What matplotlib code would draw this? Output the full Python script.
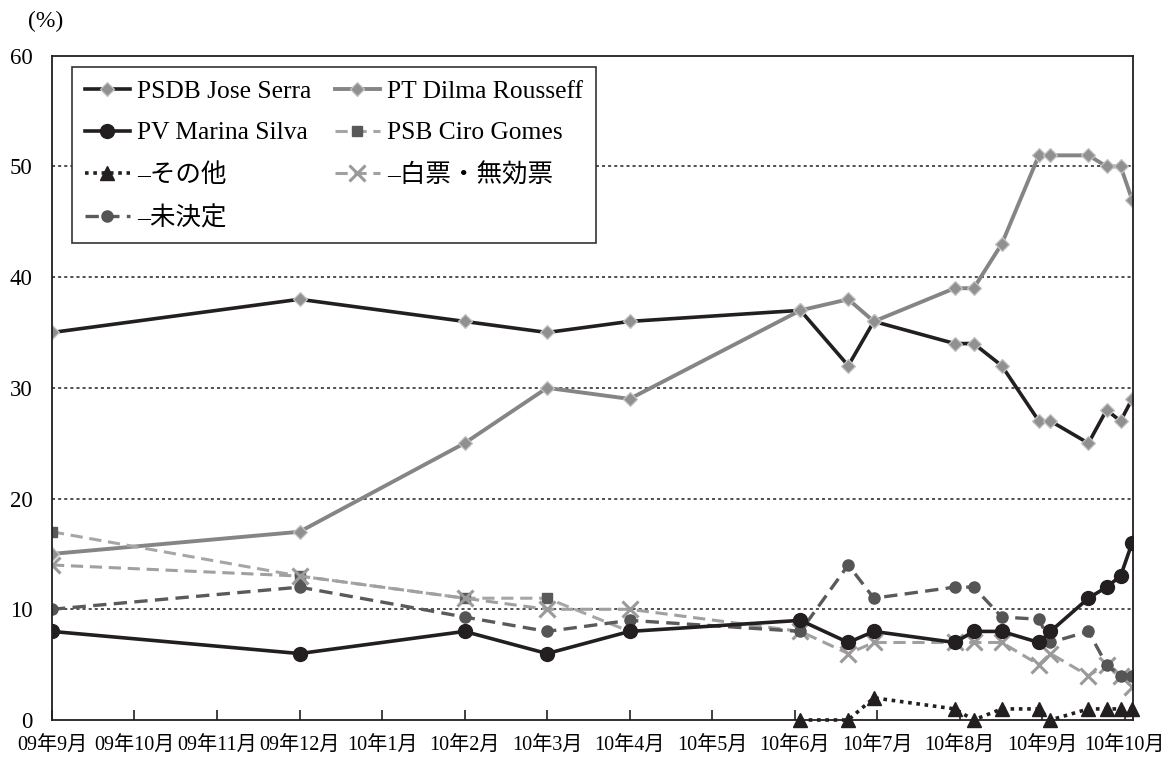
import numpy as np
import matplotlib
matplotlib.use('Agg')
import matplotlib.pyplot as plt

# ---------------------------------------------------------------
# 1. data (months counted from 2009-09)
# ---------------------------------------------------------------
months = [0, 3, 5, 6, 7, 9.07, 9.65, 9.96, 10.94, 11.17, 11.51,
          11.96, 12.1, 12.56, 12.78, 12.95, 13.09]

serra = [35, 38, 36, 35, 36, 37, 32, 36, 34, 34, 32, 27, 27, 25, 28, 27, 29]
dilma = [15, 17, 25, 30, 29, 37, 38, 36, 39, 39, 43, 51, 51, 51, 50, 50, 47]
marina = [8, 6, 8, 6, 8, 9, 7, 8, 7, 8, 8, 7, 8, 11, 12, 13, 16]
ciro_months = months[:5]
ciro = [17, 13, 11, 11, 8]
other_months = months[5:]
others = [0, 0, 2, 1, 0, 1, 1, 0, 1, 1, 1, 1]
blank = [14, 13, 11, 10, 10, 8, 6, 7, 7, 7, 7, 5, 6, 4, 5, 4, 3]
undecided = [10, 12, 9.3, 8, 9, 8, 14, 11, 12, 12, 9.3, 9.1, 7, 8, 5, 4, 4]

tick_labels = ['09年9月', '09年10月', '09年11月', '09年12月', '10年1月',
               '10年2月', '10年3月', '10年4月', '10年5月', '10年6月',
               '10年7月', '10年8月', '10年9月', '10年10月']

plt.rcParams['font.family'] = ['Liberation Serif', 'Noto Sans CJK JP']

# ---------------------------------------------------------------
# 2. plot
# ---------------------------------------------------------------
fig = plt.figure(figsize=(11.76, 7.59), dpi=100)
ax = fig.add_axes([0.0442, 0.0514, 0.9192, 0.8752])

dia = dict(marker='D', markersize=7.5, markerfacecolor='#909090',
           markeredgecolor='#c4c4c4', markeredgewidth=0.9)

h_serra, = ax.plot(months, serra, color='#231f20', lw=2.6, label='PSDB Jose Serra', **dia)
h_dilma, = ax.plot(months, dilma, color='#858585', lw=2.8, label='PT Dilma Rousseff', **dia)
h_marina, = ax.plot(months, marina, color='#231f20', lw=2.6, marker='o', markersize=10,
                    markerfacecolor='#231f20', markeredgecolor='#231f20',
                    label='PV Marina Silva', zorder=2.3)
h_ciro, = ax.plot(ciro_months, ciro, color='#a6a6a6', lw=2.2, ls=(0, (4, 2.2)),
                  marker='s', markersize=7, markerfacecolor='#595959',
                  markeredgecolor='#595959', label='PSB Ciro Gomes')
h_oth, = ax.plot(other_months, others, color='#231f20', lw=2.6, ls=(0, (1, 1.3)),
                 marker='^', markersize=9.5, markerfacecolor='#231f20',
                 markeredgecolor='#231f20', label='–その他', clip_on=False)
h_blank, = ax.plot(months, blank, color='#a0a0a0', lw=2.2, ls=(0, (4, 2.2)),
                   marker='x', markersize=11, markeredgewidth=2.2,
                   markeredgecolor='#9a9a9a', label='–白票・無効票')
h_und, = ax.plot(months, undecided, color='#5a5a5a', lw=2.4, ls=(0, (4, 2.2)),
                 marker='o', markersize=8, markerfacecolor='#555555',
                 markeredgecolor='#555555', label='–未決定')

ax.set_xlim(0, 13.1)
ax.set_ylim(0, 60)
ax.set_xticks(np.arange(len(tick_labels)))
ax.set_xticklabels(tick_labels, fontsize=14.5)
ax.set_yticks(np.arange(0, 61, 10))
ax.tick_params(axis='y', length=0, pad=14, labelsize=16.5)
ax.tick_params(axis='x', direction='in', length=7, width=1.2, pad=12, color='#231f20')

for y in range(10, 60, 10):
    ax.axhline(y, color='#231f20', lw=1.1, ls=(0, (2, 2)), zorder=0)

for s in ax.spines.values():
    s.set_color('#231f20')
    s.set_linewidth(1.3)

# legend in row-major order like the original
handles = [h_serra, h_marina, h_oth, h_und, h_dilma, h_ciro, h_blank]
leg = ax.legend(handles=handles, labels=[h.get_label() for h in handles],
                ncol=2, loc='upper left', bbox_to_anchor=(0.0185, 0.983),
                borderaxespad=0, fontsize=18.4, fancybox=False, framealpha=1,
                edgecolor='#333333', handlelength=1.76, handletextpad=0.3,
                columnspacing=0.9, labelspacing=0.74, borderpad=0.5)
leg.get_frame().set_linewidth(1.2)

fig.text(28 / 1176, 1 - 21 / 759, '(%)', fontsize=17, va='center', ha='left')

fig.savefig('out.png', dpi=100)
